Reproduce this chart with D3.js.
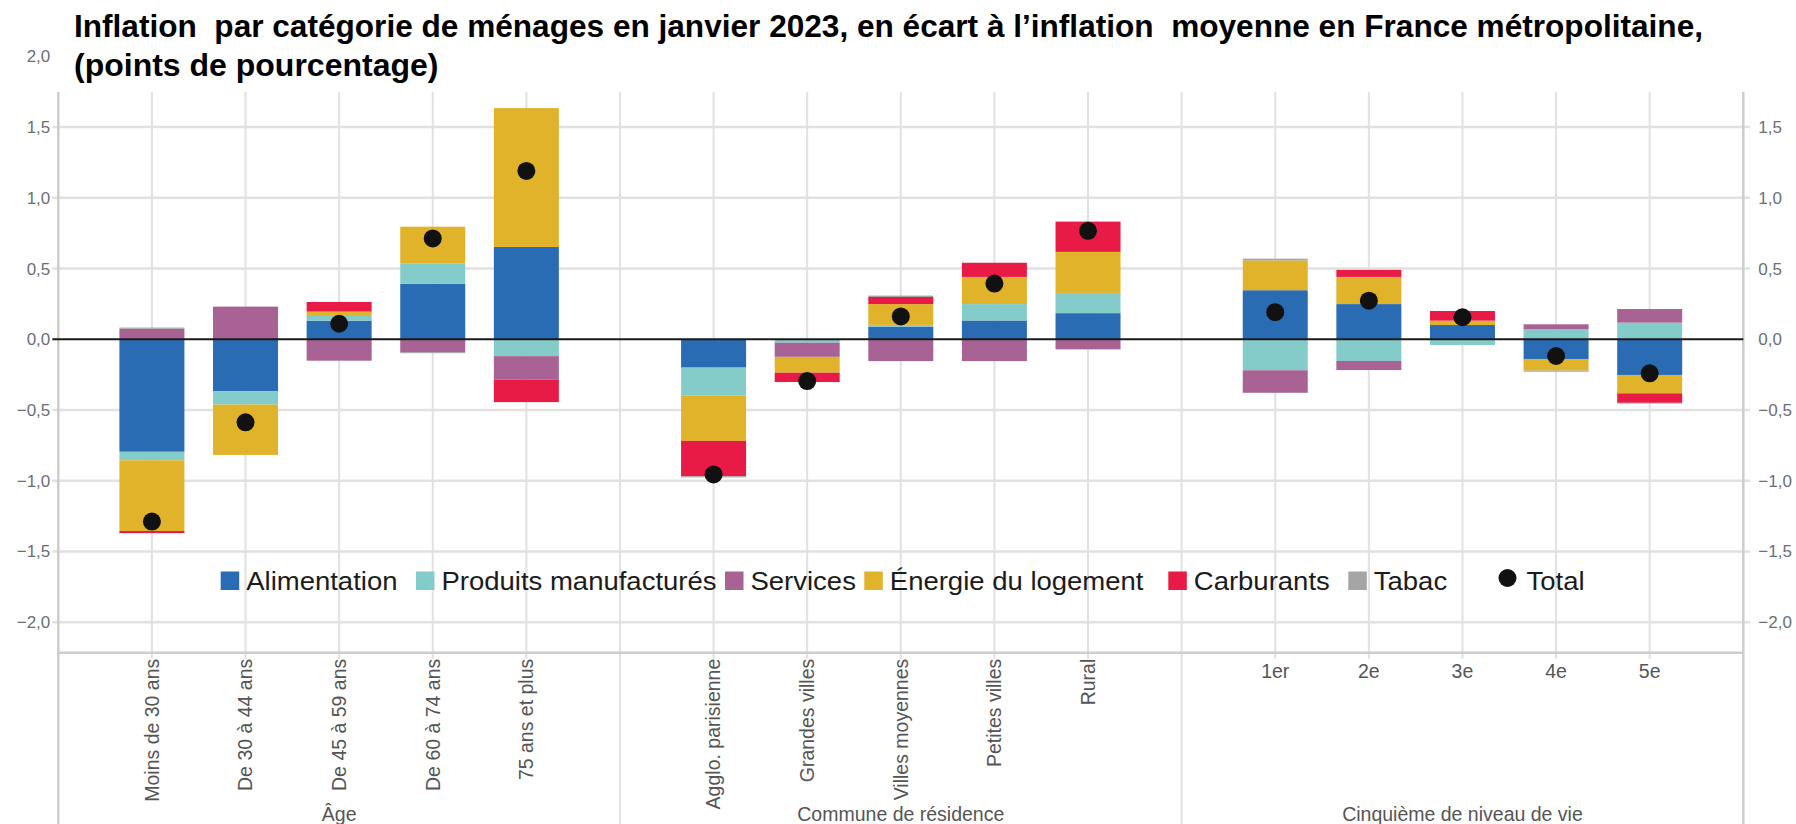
<!DOCTYPE html>
<html lang="fr">
<head>
<meta charset="utf-8">
<script src="https://cdn.jsdelivr.net/npm/d3@7/dist/d3.min.js"></script>
<style>
  body { margin: 0; background: #fff; }
  svg { display: block; font-family: "Liberation Sans", Arial, sans-serif; }
</style>
</head>
<body>
<svg id="chart" width="1796" height="824"></svg>
<script>
// categories, groups and series (points de pourcentage)
const categories = ["Moins de 30 ans", "De 30 à 44 ans", "De 45 à 59 ans", "De 60 à 74 ans", "75 ans et plus",
  "Agglo. parisienne", "Grandes villes", "Villes moyennes", "Petites villes", "Rural",
  "1er", "2e", "3e", "4e", "5e"]
const groups = ["Âge", "Commune de résidence", "Cinquième de niveau de vie"]
const groupOf = [0, 0, 0, 0, 0, 1, 1, 1, 1, 1, 2, 2, 2, 2, 2]
const seriesNames = ["Alimentation", "Produits manufacturés", "Services", "Énergie du logement", "Carburants", "Tabac"]

const alimentation = [-0.795, -0.366, 0.132, 0.392, 0.653, -0.20, 0.0, 0.09, 0.133, 0.185, 0.347, 0.249, 0.101, -0.139, -0.252]
const produits     = [-0.06, -0.095, 0.033, 0.145, -0.119, -0.197, -0.024, 0.012, 0.116, 0.143, -0.219, -0.153, -0.04, 0.071, 0.118]
const services     = [0.075, 0.231, -0.151, -0.09, -0.166, 0, -0.10, -0.154, -0.154, -0.071, -0.159, -0.064, 0, 0.035, 0.096]
const energie      = [-0.50, -0.356, 0.031, 0.259, 0.981, -0.321, -0.112, 0.147, 0.192, 0.29, 0.211, 0.192, 0.031, -0.082, -0.13]
const carburants   = [-0.015, 0, 0.068, 0, -0.159, -0.25, -0.066, 0.05, 0.10, 0.214, 0, 0.05, 0.068, 0, -0.067]
const tabac        = [0.008, 0, 0, -0.008, 0, -0.008, 0, 0.01, 0, 0, 0.012, 0, 0, -0.008, -0.005]
const total        = [-1.288, -0.587, 0.11, 0.713, 1.19, -0.955, -0.295, 0.162, 0.394, 0.767, 0.192, 0.273, 0.156, -0.118, -0.24]

const yTicks = [-2, -1.5, -1, -0.5, 0, 0.5, 1, 1.5]
const yTicksLeft = [-2, -1.5, -1, -0.5, 0, 0.5, 1, 1.5, 2]

const colors = ["#2a6cb4", "#84ccc9", "#a86294", "#e1b32b", "#e81b47", "#a5a5a5"]

const W = 1796, H = 824
const plotL = 58.3, plotR = 1743.3, plotT = 92, plotB = 652.7
const barW = 65

const svg = d3.select("#chart")

// slots: one empty slot before each group, one at the right edge
const slots = []
groups.forEach((g, gi) => {
  slots.push("gap" + gi)
  categories.forEach((c, i) => { if (groupOf[i] === gi) slots.push(c) })
})
slots.push("end")

const x = d3.scalePoint().domain(slots).range([plotL, plotR])
const y = d3.scaleLinear().domain([-2.215, 1.748]).range([plotB, plotT])

const rows = categories.map((c, i) => ({
  cat: c,
  "Alimentation": alimentation[i],
  "Produits manufacturés": produits[i],
  "Services": services[i],
  "Énergie du logement": energie[i],
  "Carburants": carburants[i],
  "Tabac": tabac[i]
}))
const stacked = d3.stack().keys(seriesNames).offset(d3.stackOffsetDiverging)(rows)

// grid
const grid = svg.append("g")
grid.selectAll("line.h")
  .data(yTicks.filter(d => d !== 0))
  .join("line")
  .attr("x1", plotL - 6).attr("x2", plotR + 7)
  .attr("y1", d => y(d)).attr("y2", d => y(d))
  .attr("stroke", "#e1e1e1").attr("stroke-width", 2.5)

grid.selectAll("line.v")
  .data(slots)
  .join("line")
  .attr("x1", d => x(d)).attr("x2", d => x(d))
  .attr("y1", plotT)
  .attr("y2", d => d.startsWith("gap") || d === "end" ? H : plotB + 6)
  .attr("stroke", d => d === "gap0" || d === "end" ? "#cdcdcd" : "#e1e1e1")
  .attr("stroke-width", d => d === "gap0" || d === "end" ? 2.5 : 2)

grid.append("line")
  .attr("x1", plotL).attr("x2", plotR)
  .attr("y1", plotB).attr("y2", plotB)
  .attr("stroke", "#cdcdcd").attr("stroke-width", 2.5)

// bars
svg.append("g")
  .selectAll("g")
  .data(stacked)
  .join("g")
  .attr("fill", (d, i) => colors[i])
  .selectAll("rect")
  .data(d => d)
  .join("rect")
  .attr("x", d => x(d.data.cat) - barW / 2)
  .attr("width", barW)
  .attr("y", d => y(Math.max(d[0], d[1])))
  .attr("height", d => Math.abs(y(d[0]) - y(d[1])))

// zero line
svg.append("line")
  .attr("x1", plotL - 6).attr("x2", plotR)
  .attr("y1", y(0)).attr("y2", y(0))
  .attr("stroke", "#1a1a1a").attr("stroke-width", 2)

// totals
svg.append("g")
  .selectAll("circle")
  .data(total)
  .join("circle")
  .attr("cx", (d, i) => x(categories[i]))
  .attr("cy", d => y(d))
  .attr("r", 9)
  .attr("fill", "#111")

// y axes
const fmt = d => d3.format(".1f")(d).replace(".", ",")
const axL = svg.append("g")
  .attr("transform", "translate(" + plotL + ",0)")
  .call(d3.axisLeft(y).tickValues(yTicksLeft).tickFormat(fmt).tickSize(0).tickPadding(8))
const axR = svg.append("g")
  .attr("transform", "translate(" + plotR + ",0)")
  .call(d3.axisRight(y).tickValues(yTicks).tickFormat(fmt).tickSize(0).tickPadding(15))
;[axL, axR].forEach(ax => {
  ax.select(".domain").remove()
  ax.selectAll("text")
    .attr("font-size", 17)
    .attr("font-family", "Liberation Sans, Arial, sans-serif")
    .attr("fill", "#6a6f78")
})

// category labels
const labels = svg.append("g")
  .attr("font-size", 19.5)
  .attr("fill", "#555")
categories.forEach((c, i) => {
  if (groupOf[i] < 2) {
    labels.append("text")
      .attr("transform", "translate(" + x(c) + "," + (plotB + 6) + ") rotate(-90)")
      .attr("text-anchor", "end")
      .attr("dy", "0.35em")
      .text(c)
  } else {
    labels.append("text")
      .attr("x", x(c))
      .attr("y", plotB + 25)
      .attr("text-anchor", "middle")
      .text(c)
  }
})
groups.forEach((g, gi) => {
  const members = categories.filter((c, i) => groupOf[i] === gi)
  labels.append("text")
    .attr("x", x(members[2]))
    .attr("y", 821)
    .attr("text-anchor", "middle")
    .attr("font-size", 19.5)
    .text(g)
})

// legend
const legendX = [220.7, 416, 725, 864.3, 1168.3, 1348.3]
const legend = svg.append("g")
seriesNames.forEach((s, i) => {
  legend.append("rect")
    .attr("x", legendX[i]).attr("y", 571.5)
    .attr("width", 18.5).attr("height", 18.5)
    .attr("fill", colors[i])
  legend.append("text")
    .attr("transform", "translate(" + (legendX[i] + 25.5) + ",590) scale(1.1,1)")
    .attr("font-size", 25)
    .attr("fill", "#1b1b1b")
    .text(s)
})
legend.append("circle")
  .attr("cx", 1507.5).attr("cy", 578).attr("r", 9)
  .attr("fill", "#111")
legend.append("text")
  .attr("transform", "translate(1526.5,590) scale(1.1,1)")
  .attr("font-size", 25)
  .attr("fill", "#1b1b1b")
  .text("Total")

// title
const title = svg.append("g")
  .attr("font-size", 32)
  .attr("font-weight", "bold")
  .attr("fill", "#000")
title.append("text").attr("x", 74).attr("y", 37)
  .attr("textLength", 1629).attr("lengthAdjust", "spacingAndGlyphs")
  .text("Inflation\u00a0 par catégorie de ménages en janvier 2023, en écart à l’inflation\u00a0 moyenne en France métropolitaine,")
title.append("text").attr("x", 74).attr("y", 76)
  .text("(points de pourcentage)")
</script>
</body>
</html>
